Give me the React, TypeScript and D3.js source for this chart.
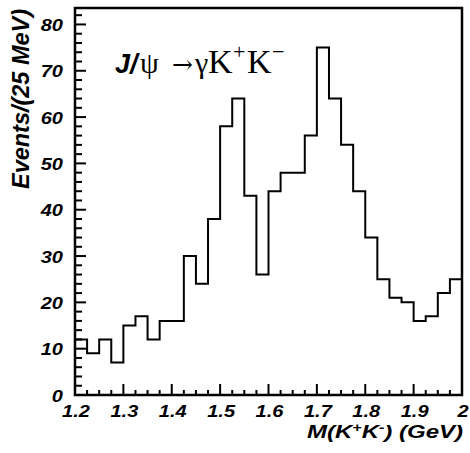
import React from "react";
import * as d3 from "d3";

const binStart = 1.2;
const binWidth = 0.025;
const counts = [12, 9, 12, 7, 15, 17, 12, 16, 16, 30, 24, 38, 58, 64, 43, 26, 44, 48, 48, 56, 75, 64, 54, 44, 34, 25, 21, 20, 16, 17, 22, 25];
const xTicks = [1.2, 1.3, 1.4, 1.5, 1.6, 1.7, 1.8, 1.9, 2.0];
const xTickLabels = ["1.2", "1.3", "1.4", "1.5", "1.6", "1.7", "1.8", "1.9", "2"];
const yTicks = [0, 10, 20, 30, 40, 50, 60, 70, 80];

export default function App() {
  const W = 470, H = 453;
  const left = 75, right = 462, top = 8, bottom = 395;
  const x = d3.scaleLinear().domain([1.2, 2.0]).range([left, right]);
  const y = d3.scaleLinear().domain([0, 83.55]).range([bottom, top]);

  const pts: [number, number][] = [];
  counts.forEach((c, i) => {
    const x0 = binStart + i * binWidth;
    pts.push([x0, c]);
    pts.push([x0 + binWidth, c]);
  });
  const line = d3.line<[number, number]>().x(d => x(d[0])).y(d => y(d[1]));
  const path = line([[1.2, 0], ...pts, [2.0, 0]] as [number, number][]);

  const xMinor = d3.range(0, 33).map(i => 1.2 + i * 0.025);
  const yMinor = d3.range(0, 42).map(i => i * 2).filter(v => v <= 83);
  const sans = "'Liberation Sans', Arial, sans-serif";
  const serif = "'Liberation Serif', 'Times New Roman', serif";
  const sx = 1.25;

  return (
    <svg width={W} height={H} style={{ position: "absolute", left: 0, top: 0, background: "#fff" }}>
      <rect x={0} y={0} width={W} height={H} fill="#fff" />
      <path d={path || ""} fill="none" stroke="#000" strokeWidth={2} />
      <rect x={left} y={top} width={right - left} height={bottom - top} fill="none" stroke="#000" strokeWidth={2.5} />
      {xMinor.map((v, i) => {
        const major = i % 4 === 0;
        return <line key={"xm" + i} x1={x(v)} x2={x(v)} y1={bottom} y2={bottom - (major ? 11 : 5)} stroke="#000" strokeWidth={2} />;
      })}
      {yMinor.map((v, i) => {
        const major = v % 10 === 0;
        return <line key={"ym" + i} x1={left} x2={left + (major ? 11 : 7)} y1={y(v)} y2={y(v)} stroke="#000" strokeWidth={2} />;
      })}
      {xTicks.map((v, i) => (
        <text key={"xt" + i} transform={`translate(${x(v) + 1},417) scale(${sx},1)`} textAnchor="middle" fontFamily={sans} fontWeight="bold" fontStyle="italic" fontSize={16}>
          {xTickLabels[i]}
        </text>
      ))}
      {yTicks.map((v, i) => (
        <text key={"yt" + i} transform={`translate(63,${y(v) + 6.5}) scale(${sx},1)`} textAnchor="end" fontFamily={sans} fontWeight="bold" fontStyle="italic" fontSize={16}>
          {v}
        </text>
      ))}
      <text x={463} y={438} textAnchor="end" fontFamily={sans} fontWeight="bold" fontStyle="italic" fontSize={18} textLength={156} lengthAdjust="spacingAndGlyphs">
        M(K<tspan dy={-6} fontSize={12}>+</tspan><tspan dy={6}>K</tspan><tspan dy={-6} fontSize={12}>-</tspan><tspan dy={6}>) (GeV)</tspan>
      </text>
      <text transform="translate(29,99) rotate(-90)" textAnchor="middle" fontFamily={sans} fontWeight="bold" fontStyle="italic" fontSize={23} textLength={180} lengthAdjust="spacingAndGlyphs">
        Events/(25 MeV)
      </text>
      <text y={73} fill="#000">
        <tspan x={115} fontFamily={sans} fontWeight="bold" fontStyle="italic" fontSize={27}>J/</tspan>
        <tspan x={140} fontFamily={serif} fontSize={30}>ψ</tspan>
        <tspan x={172} fontFamily="'DejaVu Serif', serif" fontSize={25}>→</tspan>
        <tspan x={195} fontFamily={serif} fontSize={30}>γ</tspan>
        <tspan x={208} fontFamily={serif} fontSize={34}>K</tspan>
        <tspan x={233} dy={-14} fontFamily={serif} fontSize={22}>+</tspan>
        <tspan x={247} dy={14} fontFamily={serif} fontSize={34}>K</tspan>
        <tspan x={272} dy={-14} fontFamily={serif} fontSize={22}>−</tspan>
      </text>
    </svg>
  );
}
